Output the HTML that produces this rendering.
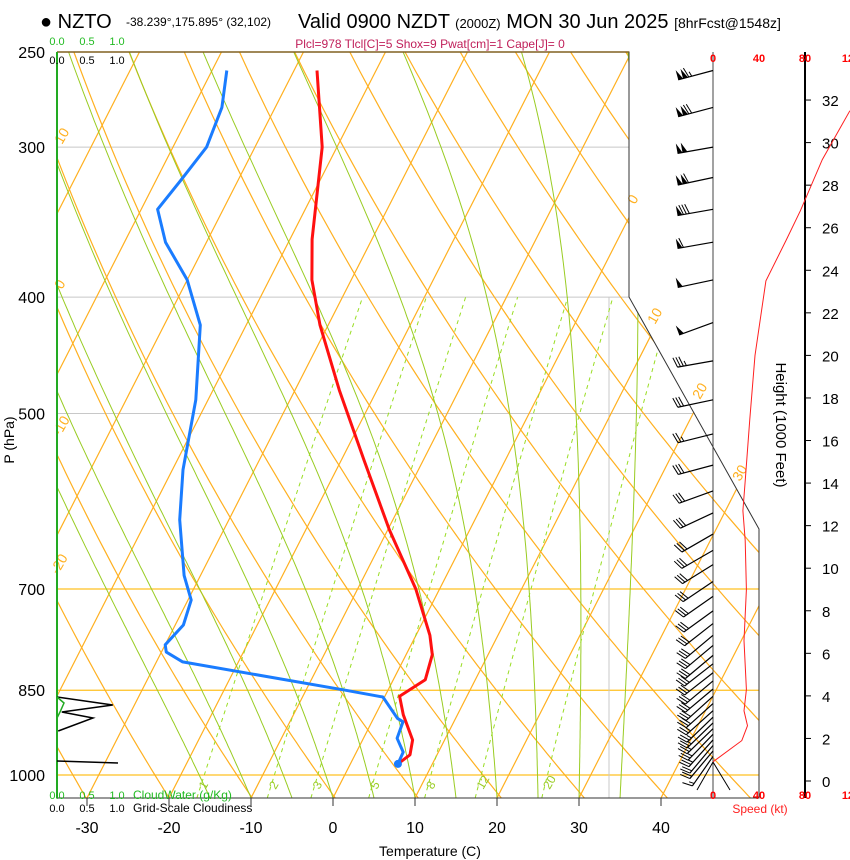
<!DOCTYPE html>
<html><head><meta charset="utf-8">
<style>
html,body{margin:0;padding:0;background:#fff;}
svg{display:block;font-family:"Liberation Sans",Arial,sans-serif;}
</style></head>
<body>
<svg id="chart" width="850" height="860" viewBox="0 0 850 860" xmlns="http://www.w3.org/2000/svg">
<defs>
<clipPath id="plotclip"><polygon points="57,52 629,52 629,297 759,529 759,798 57,798"/></clipPath>
</defs>
<g>
<text x="40" y="28" font-size="20">● NZTO</text>
<text x="126" y="26" font-size="12">-38.239°,175.895° (32,102)</text>
<text x="298" y="28" font-size="20">Valid 0900 NZDT <tspan font-size="13">(2000Z)</tspan> MON 30 Jun 2025 <tspan font-size="14">[8hrFcst@1548z]</tspan></text>
<text x="430" y="48" font-size="12" fill="#c0205a" text-anchor="middle">Plcl=978 Tlcl[C]=5 Shox=9 Pwat[cm]=1 Cape[J]= 0</text>
</g>
<g id="grid" clip-path="url(#plotclip)"></g>
<g id="profiles" clip-path="url(#plotclip)"></g>
<g id="axes"></g>
</svg>
<script>
// ---- data ----
const tempP  = [259,300,358,387,422,478,547,625,700,765,794,833,860,891,935,962,979];
const tempT  = [-47.2,-41.8,-37.3,-34.8,-31,-24.6,-17.2,-9.8,-2.9,1.7,3.2,3.9,1.8,3.4,6.1,6.7,5.8];
const dewP   = [259,278,300,320,338,360,387,422,487,557,613,682,715,750,779,790,805,850,861,897,903,932,957,979];
const dewT   = [-58.2,-56.5,-55.9,-57,-58,-55,-50,-45.6,-41.5,-38.7,-36,-32,-29.6,-29,-30,-29.4,-26.8,-5.2,-0.2,2.9,3.8,4.1,5.7,5.8];
const spdH   = [0.9,1.9,2.6,3.3,4.3,6.6,9,11.3,12.7,14.1,17,20,23.5,25.4,26.8,29.2,31.5];
const spdV   = [0,25,30,27,29,27,29,28,26,28,32,36.5,46,63.5,76,95,119];
const barbP  = [259,278,300,318,338,360,387,420,452,487,520,552,580,605,630,650,668,690,710,730,748,765,780,795,808,822,835,848,860,872,884,895,905,915,925,935,945,955,965];
const barbDir= [255,255,260,258,260,260,258,250,260,258,256,255,250,245,240,240,238,236,235,234,232,230,230,230,232,232,230,230,228,228,228,226,226,226,224,222,220,220,215];
const barbSpd= [115,120,100,110,80,60,50,50,35,30,25,30,30,30,30,30,30,30,30,30,30,30,30,30,30,30,30,30,30,30,25,25,25,25,25,25,20,20,15];
const pLabels = [250,300,400,500,700,850,1000];
const tLabels = [-30,-20,-10,0,10,20,30,40];
const hLabels = [0,2,4,6,8,10,12,14,16,18,20,22,24,26,28,30,32];
const mixRatios = [1,2,3,5,8,12,20];
const cloudPts = [[0,697],[0.93,705],[0.08,712],[0.6,718],[0.02,731]];

// ---- axis functions ----
const SK=0.51, PX=8.2, X0=333, YB=798;
function yP(p){return 775-Math.log(1000/p)*521.5;}
function xT(T,p){return X0+PX*T+SK*(YB-yP(p));}
function yH(h){return 781-21.28*h;}
function xS(s){return 713+1.15*s;}
const NS="http://www.w3.org/2000/svg";
function mk(tag,attrs,parent){const e=document.createElementNS(NS,tag);for(const k in attrs)e.setAttribute(k,attrs[k]);parent.appendChild(e);return e;}
const grid=document.getElementById('grid'),prof=document.getElementById('profiles'),axes=document.getElementById('axes');

// isobars
[300,400,500].forEach(p=>{const l=mk('line',{x1:57,x2:760,y1:yP(p),y2:yP(p),stroke:'#c8c8c8','stroke-width':1},grid);
});
[700,850,1000].forEach(p=>{const l=mk('line',{x1:57,x2:760,y1:yP(p),y2:yP(p),stroke:'#ffc020','stroke-width':1.2},grid);
});
const gl=mk('line',{x1:609,x2:609,y1:297,y2:798,stroke:'#c8c8c8','stroke-width':1},grid);

// isotherms
for(let T=-120;T<=40;T+=10){const l=mk('line',{x1:xT(T,1045),y1:yP(1045),x2:xT(T,200),y2:yP(200),stroke:'#ffb020','stroke-width':1.2},grid);
}
// dry adiabats
for(let th=240;th<=480;th+=10){let d='';for(let p=1050;p>=240;p-=10){const T=th*Math.pow(p/1000,0.2857)-273.15;d+=(d?'L':'M')+xT(T,p).toFixed(1)+','+yP(p).toFixed(1);}
const e=mk('path',{d:d,fill:'none',stroke:'#ffb020','stroke-width':1.2},grid);}
// moist adiabats
function es(T){return 6.112*Math.exp(17.67*T/(T+243.5));}
for(let T0=-15;T0<=35;T0+=5){let T=T0+273.15,p=1045,d='M'+xT(T0,p).toFixed(1)+','+yP(p).toFixed(1);
 while(p>250){const e=es(T-273.15),rs=0.622*e/(p-e),Lv=2.5e6;
  const dTdp=(287*T+Lv*rs)/(p*(1004+Lv*Lv*rs*0.622/(287*T*T)));p-=5;T-=dTdp*5;d+='L'+xT(T-273.15,p).toFixed(1)+','+yP(p).toFixed(1);}
 const e=mk('path',{d:d,fill:'none',stroke:'#99cc22','stroke-width':1},grid);}
// mixing ratio
function tdW(w,p){const e=w*p/(622+w),a=Math.log(e/6.112);return 243.5*a/(17.67-a);}
mixRatios.forEach(w=>{let d='';for(let p=1045;p>=400;p-=15){d+=(d?'L':'M')+xT(tdW(w,p),p).toFixed(1)+','+yP(p).toFixed(1);}
 const e=mk('path',{d:d,fill:'none',stroke:'#99dd22','stroke-width':1,'stroke-dasharray':'4,4'},grid);
 const x=xT(tdW(w,1030),1030)+6;const t=mk('text',{x:x,y:790,'font-size':12,fill:'#99cc22',transform:'rotate(-60 '+x+' 790)'},axes);t.textContent=w;
 });
// isotherm labels
[[10,62,145],[0,62,290],[-10,60,437],[-20,58,575],[0,635,205],[10,655,325],[20,700,400],[30,740,482]].forEach(a=>{const t=mk('text',{x:a[1],y:a[2],'font-size':14,fill:'#ffb020',transform:'rotate(-60 '+a[1]+' '+a[2]+')'},axes);t.textContent=a[0];
});

// profiles
function poly(P,T,color,name){const pts=P.map((p,i)=>xT(T[i],p).toFixed(1)+','+yP(p).toFixed(1)).join(' ');
 const e=mk('polyline',{points:pts,fill:'none',stroke:color,'stroke-width':3,'stroke-linejoin':'round'},prof);}
poly(tempP,tempT,'#ff1010','temperature-line');
poly(dewP,dewT,'#1a7cff','dewpoint-line');
const dot=mk('circle',{cx:xT(dewT[dewT.length-1],979),cy:yP(979),r:4,fill:'#1a7cff'},prof);

// frame
const fr=mk('polyline',{points:'57,52 629,52 629,297 759,529 759,798 57,798 57,52',fill:'none',stroke:'#333','stroke-width':1},axes);
const topl=mk('line',{x1:57,x2:629,y1:52,y2:52,stroke:'#806020','stroke-width':1.5},axes);
// cloud panel
const gL=mk('line',{x1:57,x2:57,y1:52,y2:798,stroke:'#22aa22','stroke-width':2},axes);
const cp=mk('polyline',{points:cloudPts.map(c=>(57+60*c[0])+','+c[1]).join(' '),fill:'none',stroke:'#000','stroke-width':1.5},axes);
const cp2=mk('line',{x1:57,y1:761,x2:118,y2:763,stroke:'#000','stroke-width':1.5},axes);
const cw=mk('polyline',{points:'57,697 64,703 60,712 57,718',fill:'none',stroke:'#22aa22','stroke-width':1.5},axes);
[['0.0',57],['0.5',87],['1.0',117]].forEach(a=>{[[45,'#22bb22'],[64,'#000'],[799,'#22bb22'],[812,'#000']].forEach(b=>{const t=mk('text',{x:a[1],y:b[0],'font-size':11,fill:b[1],'text-anchor':'middle'},axes);t.textContent=a[0];});});
let t=mk('text',{x:133,y:799,'font-size':12,fill:'#22bb22'},axes);t.textContent='CloudWater (g/Kg)';
t=mk('text',{x:133,y:812,'font-size':12,fill:'#000'},axes);t.textContent='Grid-Scale Cloudiness';

// pressure labels
pLabels.forEach(p=>{const t=mk('text',{x:45,y:yP(p)+6,'font-size':16,'text-anchor':'end'},axes);t.textContent=p;});
t=mk('text',{x:14,y:440,'font-size':14,'text-anchor':'middle',transform:'rotate(-90 14 440)'},axes);t.textContent='P (hPa)';
// temperature labels
tLabels.forEach(T=>{const x=X0+PX*T;mk('line',{x1:x,x2:x,y1:798,y2:806,stroke:'#333'},axes);const t=mk('text',{x:x,y:833,'font-size':16,'text-anchor':'middle'},axes);t.textContent=T;});
t=mk('text',{x:430,y:856,'font-size':14,'text-anchor':'middle'},axes);t.textContent='Temperature (C)';

// wind barb staff & speed axes
mk('line',{x1:713,x2:713,y1:52,y2:798,stroke:'#444','stroke-width':1},axes);
mk('line',{x1:805,x2:805,y1:52,y2:798,stroke:'#000','stroke-width':2},axes);
[0,40,80,120].forEach(s=>{[62,799].forEach(yy=>{const t=mk('text',{x:xS(s),y:yy,'font-size':11,'font-weight':'bold',fill:'#ff0000','text-anchor':'middle'},axes);t.textContent=s;});});
t=mk('text',{x:760,y:813,'font-size':12,fill:'#ff2020','text-anchor':'middle'},axes);t.textContent='Speed (kt)';
hLabels.forEach(h=>{mk('line',{x1:805,x2:811,y1:yH(h),y2:yH(h),stroke:'#000'},axes);const t=mk('text',{x:822,y:yH(h)+6,'font-size':15},axes);t.textContent=h;});
t=mk('text',{x:776,y:425,'font-size':15,'text-anchor':'middle',transform:'rotate(90 776 425)'},axes);t.textContent='Height (1000 Feet)';
const sp=mk('polyline',{points:spdH.map((h,i)=>xS(spdV[i]).toFixed(1)+','+yH(h).toFixed(1)).join(' '),fill:'none',stroke:'#ff2020','stroke-width':1},axes);


// wind barbs
barbP.forEach((p,i)=>{const g=mk('g',{},axes);
 const x0=713,y0=yP(p),a=barbDir[i]*Math.PI/180,L=36;const ux=Math.sin(a),uy=-Math.cos(a);
 const xe=x0+ux*L,ye=y0+uy*L;mk('line',{x1:x0,y1:y0,x2:xe,y2:ye,stroke:'#000','stroke-width':1.2},g);
 const nx=-uy,ny=ux;let s=Math.round(barbSpd[i]/5)*5,pos=0;
 while(s>=50){const bx=xe-ux*pos,by=ye-uy*pos;mk('polygon',{points:`${bx},${by} ${bx+nx*10},${by+ny*10} ${bx-ux*5},${by-uy*5}`,fill:'#000'},g);pos+=5;s-=50;}
 if(pos)pos+=1;
 while(s>=10){const bx=xe-ux*pos,by=ye-uy*pos;mk('line',{x1:bx,y1:by,x2:bx+nx*10+ux*3,y2:by+ny*10+uy*3,stroke:'#000','stroke-width':1},g);pos+=3;s-=10;}
 if(s>=5){const bx=xe-ux*pos,by=ye-uy*pos;mk('line',{x1:bx,y1:by,x2:bx+nx*5+ux*1.5,y2:by+ny*5+uy*1.5,stroke:'#000','stroke-width':1},g);}
});
mk('line',{x1:713,y1:762,x2:697,y2:790,stroke:'#000'},axes);
mk('line',{x1:713,y1:762,x2:730,y2:790,stroke:'#000'},axes);
</script>
</body></html>
